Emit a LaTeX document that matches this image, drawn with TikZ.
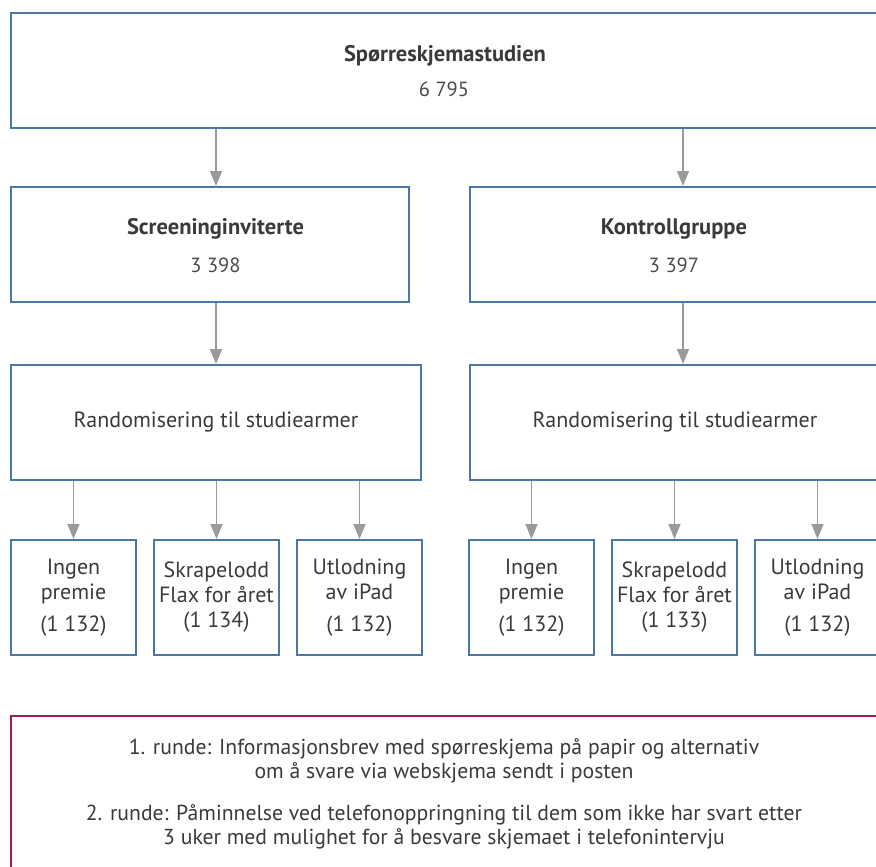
\documentclass[tikz,border=0pt]{standalone}
\usepackage{fontspec}
\setmainfont{PT Sans}
\usetikzlibrary{arrows.meta}
\definecolor{boxblue}{HTML}{4A77A8}
\definecolor{arrgray}{HTML}{9A9A9E}
\definecolor{txt}{HTML}{3A3A3A}
\definecolor{numtxt}{HTML}{4A4A4A}
\definecolor{noteframe}{HTML}{A01E4A}
\begin{document}
\begin{tikzpicture}[x=1pt,y=-1pt,
  box/.style={draw=boxblue,line width=2pt,rectangle,anchor=north west,inner sep=0pt,
    align=center,text=txt,font=\fontsize{22}{25}\selectfont},
  bigbox/.style={box,minimum height=115pt},
  smallbox/.style={box,minimum width=125pt,minimum height=115pt},
  notebox/.style={draw=noteframe,line width=1.6pt,rectangle,anchor=north west,inner sep=0pt,
    minimum width=887pt,minimum height=200pt},
  arr/.style={draw=arrgray,line width=1.5pt,-{Triangle[length=15pt,width=12pt]}},
  title/.style={text=txt,font=\fontsize{22.5}{25}\selectfont\bfseries},
  count/.style={text=numtxt,font=\fontsize{20.5}{24}\selectfont},
  notetext/.style={text=txt,align=center,font=\fontsize{21.7}{24}\selectfont},
]
\useasboundingbox (0,0) rectangle (876,867);
\clip (0,0) rectangle (876,867);
% top
\node[bigbox,minimum width=887pt] (top) at (10,12) {};
\node[title] (toptitle) at (445,56) {Spørreskjemastudien};
\node[count] (topnum) at (444,89) {6 795};
% second level
\node[bigbox,minimum width=398pt] (scr) at (10,186) {};
\node[title] (scrtitle) at (215.5,229) {Screeninginviterte};
\node[count] (scrnum) at (215.5,265) {3 398};
\node[bigbox,minimum width=410pt] (kon) at (469,186) {};
\node[title] (kontitle) at (674,229) {Kontrollgruppe};
\node[count] (konnum) at (674,265) {3 397};
% randomisation
\node[bigbox,minimum width=410pt] (ran1) at (10,364) {Randomisering til studiearmer};
\node[bigbox,minimum width=410pt] (ran2) at (469,364) {Randomisering til studiearmer};
% arms
\node[smallbox] (a1) at (10,539) {Ingen\\premie\\[7pt](1 132)};
\node[smallbox] (a2) at (153,539) {Skrapelodd\\Flax for året\\(1 134)};
\node[smallbox] (a3) at (296,539) {Utlodning\\av iPad\\[7pt](1 132)};
\node[smallbox] (b1) at (468,539) {Ingen\\premie\\[7pt](1 132)};
\node[smallbox] (b2) at (611,539) {Skrapelodd\\Flax for året\\(1 133)};
\node[smallbox] (b3) at (754,539) {Utlodning\\av iPad\\[7pt](1 132)};
% note
\node[notebox] (note) at (10,715) {};
\node[notetext] (note1) at (444,761)
  {1. runde: Informasjonsbrev med spørreskjema på papir og alternativ\\om å svare via webskjema sendt i posten};
\node[notetext] (note2) at (444,827)
  {2. runde: Påminnelse ved telefonoppringning til dem som ikke har svart etter\\3 uker med mulighet for å besvare skjemaet i telefonintervju};
% connectors
\coordinate (c1) at (216,0);
\coordinate (c2) at (683,0);
\draw[arr] (top.south -| c1) -- (scr.north -| c1);
\draw[arr] (top.south -| c2) -- (kon.north -| c2);
\draw[arr] (scr.south -| c1) -- (ran1.north -| c1);
\draw[arr] (kon.south -| c2) -- (ran2.north -| c2);
\draw[arr] (ran1.south -| a1) -- (a1.north);
\draw[arr] (ran1.south -| a2) -- (a2.north);
\draw[arr] (ran1.south -| a3) -- (a3.north);
\draw[arr] (ran2.south -| b1) -- (b1.north);
\draw[arr] (ran2.south -| b2) -- (b2.north);
\draw[arr] (ran2.south -| b3) -- (b3.north);
\end{tikzpicture}
\end{document}
